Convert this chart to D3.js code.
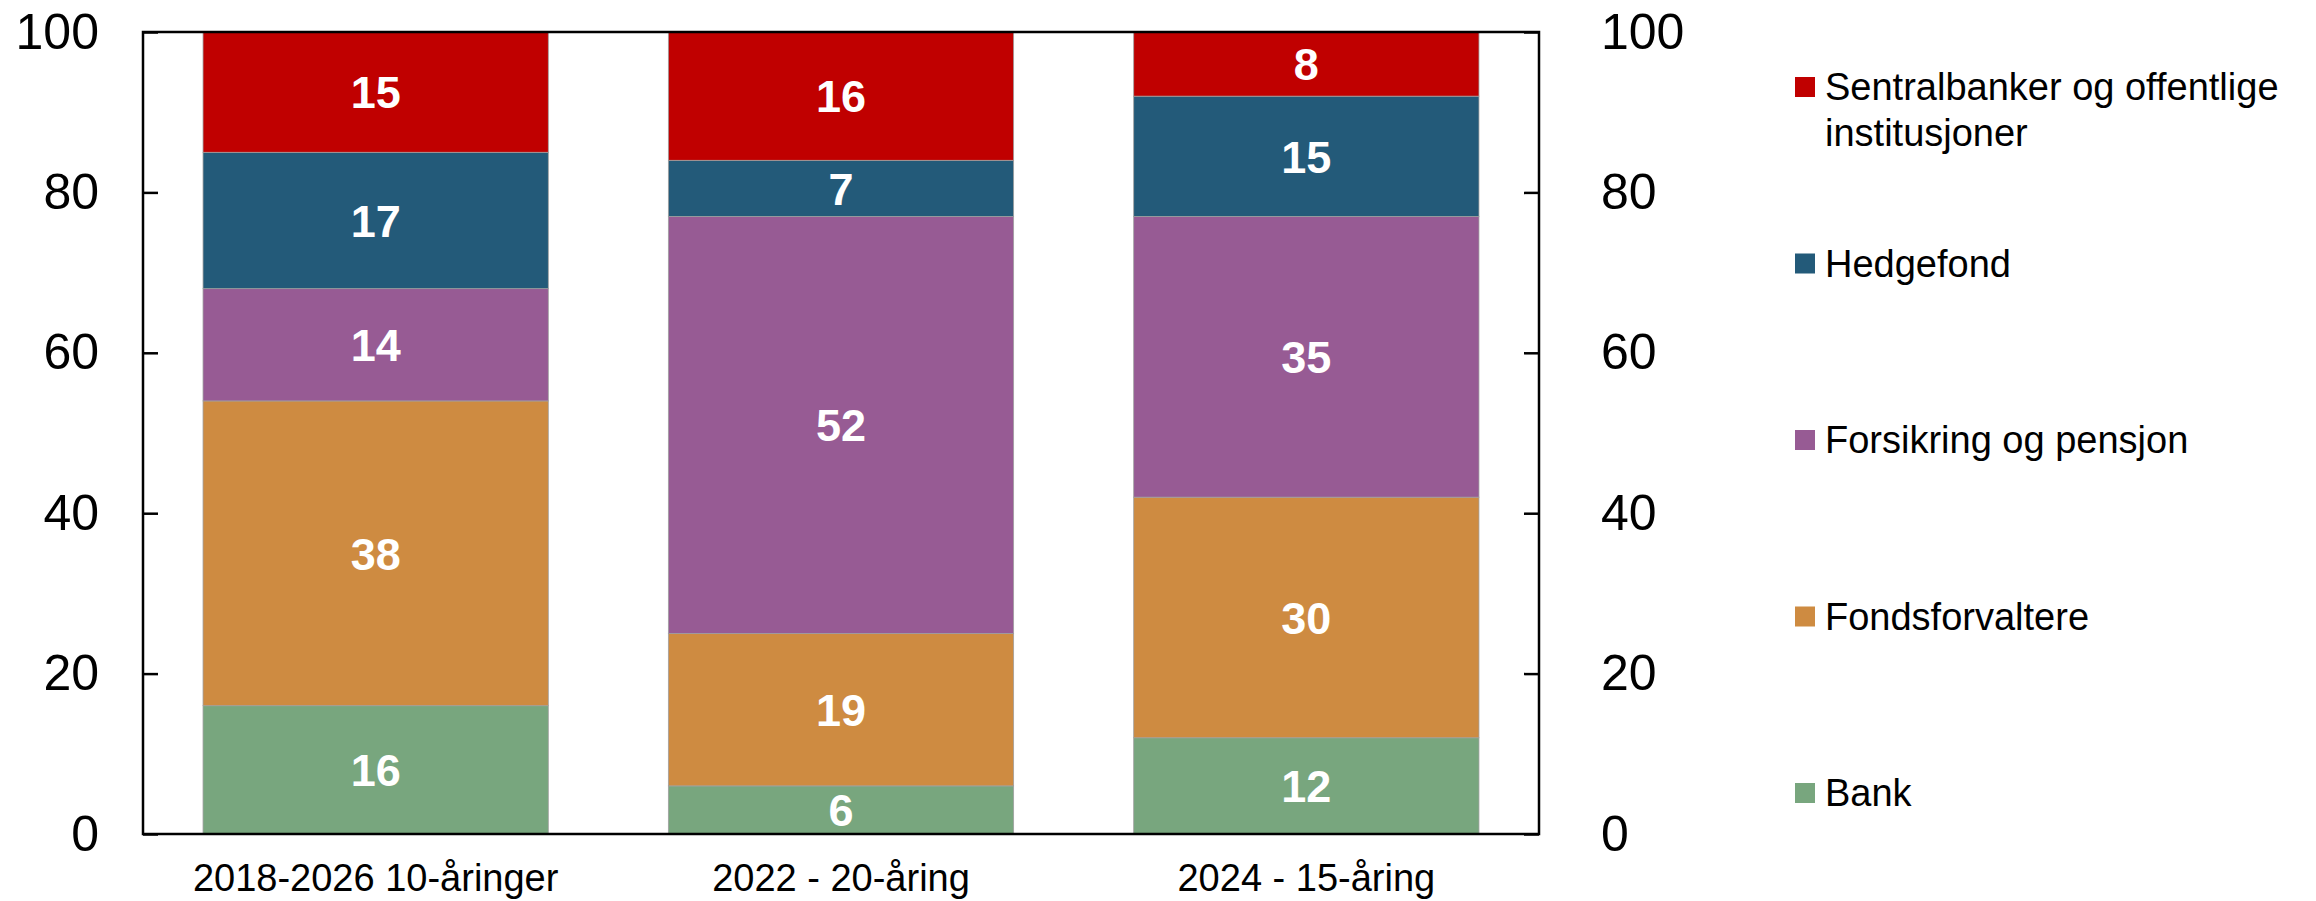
<!DOCTYPE html>
<html>
<head>
<meta charset="utf-8">
<script src="https://cdn.jsdelivr.net/npm/d3@7"></script>
<style>
  body { margin: 0; background: #fff; }
  text { font-family: 'Liberation Sans', Arial, sans-serif; }
</style>
</head>
<body>
<div id="chart"></div>
<script>
// Data
var categories = ['2018-2026 10-åringer', '2022 - 20-åring', '2024 - 15-åring']
var seriesNames = ['Bank', 'Fondsforvaltere', 'Forsikring og pensjon', 'Hedgefond', 'Sentralbanker og offentlige institusjoner']
var bank = [16, 6, 12]
var fondsforvaltere = [38, 19, 30]
var forsikring = [14, 52, 35]
var hedgefond = [17, 7, 15]
var sentralbanker = [15, 16, 8]
var yTicks = [0, 20, 40, 60, 80, 100]

var colors = ['#78a67e', '#ce8b41', '#975b94', '#235a79', '#c00000']
var legendLines = [['Bank'], ['Fondsforvaltere'], ['Forsikring og pensjon'], ['Hedgefond'], ['Sentralbanker og offentlige', 'institusjoner']]

var totalWidth = 2316
var totalHeight = 901
var margin = { top: 32, left: 143, right: 777, bottom: 67 }
var width = totalWidth - margin.left - margin.right
var height = totalHeight - margin.top - margin.bottom

var svg = d3
  .select('#chart')
  .append('svg')
  .attr('width', totalWidth)
  .attr('height', totalHeight)

var g = svg.append('g').attr('transform', `translate(${margin.left}, ${margin.top})`)

var xPositionScale = d3
  .scaleBand()
  .domain(categories)
  .range([0, width])
  .paddingInner(0.258)
  .paddingOuter(0.129)

var yPositionScale = d3
  .scaleLinear()
  .domain([0, 100])
  .range([height, 0])

// build a table for d3.stack
var seriesValues = [bank, fondsforvaltere, forsikring, hedgefond, sentralbanker]
var table = categories.map(function(c, i) {
  var row = { category: c }
  seriesNames.forEach(function(s, j) {
    row[s] = seriesValues[j][i]
  })
  return row
})

var stacked = d3.stack().keys(seriesNames)(table)

var layers = g
  .selectAll('.layer')
  .data(stacked)
  .enter()
  .append('g')
  .attr('class', 'layer')
  .attr('fill', (d, i) => colors[i])

layers
  .selectAll('rect')
  .data(d => d)
  .enter()
  .append('rect')
  .attr('x', d => xPositionScale(d.data.category))
  .attr('width', xPositionScale.bandwidth())
  .attr('y', d => yPositionScale(d[1]))
  .attr('height', d => yPositionScale(d[0]) - yPositionScale(d[1]))
  .attr('stroke', '#a0a0a0')
  .attr('stroke-width', 0.8)

layers
  .selectAll('.value-label')
  .data(d => d)
  .enter()
  .append('text')
  .attr('class', 'value-label')
  .text(d => d[1] - d[0])
  .attr('x', d => xPositionScale(d.data.category) + xPositionScale.bandwidth() / 2)
  .attr('y', d => yPositionScale((d[0] + d[1]) / 2))
  .attr('dy', '0.36em')
  .attr('text-anchor', 'middle')
  .attr('font-size', 45)
  .attr('font-weight', 'bold')
  .attr('fill', '#fff')

// frame
g.append('rect')
  .attr('x', 0)
  .attr('y', 0)
  .attr('width', width)
  .attr('height', height)
  .attr('fill', 'none')
  .attr('stroke', '#000')
  .attr('stroke-width', 2.5)

var yAxisLeft = d3
  .axisLeft(yPositionScale)
  .tickValues(yTicks)
  .tickSize(-15)
  .tickPadding(44)
g.append('g')
  .attr('class', 'axis y-axis')
  .call(yAxisLeft)

var yAxisRight = d3
  .axisRight(yPositionScale)
  .tickValues(yTicks)
  .tickSize(-15)
  .tickPadding(62)
g.append('g')
  .attr('class', 'axis y-axis-right')
  .attr('transform', `translate(${width}, 0)`)
  .call(yAxisRight)

g.selectAll('.y-axis text, .y-axis-right text')
  .attr('font-size', 50)
  .attr('fill', '#000')
  .attr('font-family', "'Liberation Sans', Arial, sans-serif")
g.selectAll('.y-axis line, .y-axis-right line')
  .attr('stroke', '#000')
  .attr('stroke-width', 2.5)
g.selectAll('.y-axis .domain, .y-axis-right .domain').remove()

var xAxis = d3.axisBottom(xPositionScale).tickSize(0).tickPadding(0)
g.append('g')
  .attr('class', 'axis x-axis')
  .attr('transform', `translate(0, ${height})`)
  .call(xAxis)
g.selectAll('.x-axis .domain').remove()
g.selectAll('.x-axis text')
  .attr('y', 57)
  .attr('dy', 0)
  .attr('font-size', 38)
  .attr('fill', '#000')
  .attr('font-family', "'Liberation Sans', Arial, sans-serif")

// legend, top to bottom
var legendY = d3
  .scalePoint()
  .domain(d3.range(seriesNames.length).reverse())
  .range([87, 793])

var legend = svg
  .selectAll('.legend-item')
  .data(seriesNames)
  .enter()
  .append('g')
  .attr('class', 'legend-item')
  .attr('transform', (d, i) => `translate(1795, ${legendY(i)})`)

legend
  .append('rect')
  .attr('x', 0)
  .attr('y', -10)
  .attr('width', 20)
  .attr('height', 20)
  .attr('fill', (d, i) => colors[i])

legend
  .append('text')
  .attr('x', 30)
  .attr('y', 13)
  .attr('font-size', 38)
  .attr('fill', '#000')
  .selectAll('tspan')
  .data((d, i) => legendLines[i])
  .enter()
  .append('tspan')
  .attr('x', 30)
  .attr('dy', (d, i) => (i === 0 ? 0 : 46))
  .text(d => d)
</script>
</body>
</html>
